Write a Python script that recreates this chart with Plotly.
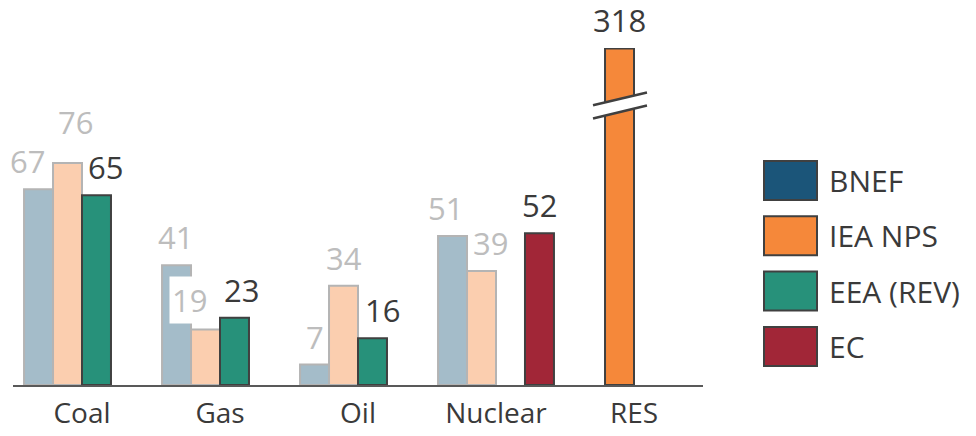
import plotly.graph_objects as go

# ---- data -------------------------------------------------------------
categories = ["Coal", "Gas", "Oil", "Nuclear", "RES"]
series_names = ["BNEF", "IEA NPS", "EEA (REV)", "EC"]
bnef = [67, 41, 7, 51, None]
iea_nps = [76, 19, 34, 39, 318]
eea_rev = [65, 23, 16, None, None]
ec = [None, None, None, 52, None]
values = [bnef, iea_nps, eea_rev, ec]

# bars shown in full colour; the rest are greyed out
highlighted = [
    [False, False, False, False, False],
    [False, False, False, False, True],
    [True, True, True, True, True],
    [True, True, True, True, True],
]

# ---- styling ----------------------------------------------------------
FONT = "Open Sans"
full_colors = ["#1B5579", "#F5883A", "#27917A", "#A12637"]
faded_colors = ["#A4BCC9", "#FBCEAF", "#A8D3C9", "#D9A8AF"]
DARK_LINE = "#404040"
FADED_LINE = "#B4B4B4"
DARK_TEXT = "#3A3A3A"
FADED_TEXT = "#BDBDBD"

BARGAP = 0.16
N_SERIES = len(series_names)
BAR_W = (1 - BARGAP) / N_SERIES
Y_TOP = 115.4  # axis is cut here; taller bars get a break mark

# plot area in pixels
W, H = 976, 436
L, R, T, B = 13, 273, 48, 51
PW, PH = W - L - R, H - T - B

LABEL_GAP = 6
# per-label nudges (series index, category index) -> (dx px, dy px)
label_nudge = {
    (0, 0): (-11, 0), (1, 0): (8, 13), (2, 0): (9, 0),
    (0, 1): (-1, 0), (1, 1): (-16, 0), (2, 1): (7, 0),
    (2, 2): (10, 0),
    (0, 3): (-7, 0), (1, 3): (9, 0),
}
white_box_labels = {(1, 1)}


def bar_center(si, ci):
    return ci - (1 - BARGAP) / 2 + BAR_W * (si + 0.5)


def px_x(p):
    return (p - L) / PW


def px_y(p):
    return (H - B - p) / PH


fig = go.Figure()
for si, name in enumerate(series_names):
    fills = [full_colors[si] if h else faded_colors[si] for h in highlighted[si]]
    lines = [DARK_LINE if h else FADED_LINE for h in highlighted[si]]
    fig.add_trace(go.Bar(
        name=name, x=categories, y=values[si],
        marker=dict(color=fills, line=dict(color=lines, width=2)),
        showlegend=False, hoverinfo="skip",
    ))

annotations = []
shapes = []

# value labels
for si in range(N_SERIES):
    for ci, v in enumerate(values[si]):
        if v is None:
            continue
        dx, dy = label_nudge.get((si, ci), (0, 0))
        box = (si, ci) in white_box_labels
        annotations.append(dict(
            x=bar_center(si, ci), y=min(v, Y_TOP), xref="x", yref="y",
            text=str(v), showarrow=False, yanchor="bottom",
            xshift=dx, yshift=LABEL_GAP + dy,
            font=dict(family=FONT, size=31,
                      color=DARK_TEXT if highlighted[si][ci] else FADED_TEXT),
            bgcolor="white" if box else "rgba(0,0,0,0)",
            borderpad=2 if box else 0,
        ))

# cut bars: close the top edge and add a break mark
for si in range(N_SERIES):
    for ci, v in enumerate(values[si]):
        if v is None or v <= Y_TOP:
            continue
        xc = bar_center(si, ci)
        x0, x1 = xc - BAR_W / 2, xc + BAR_W / 2
        shapes.append(dict(type="line", xref="x", yref="y",
                           x0=x0, x1=x1, y0=Y_TOP, y1=Y_TOP,
                           line=dict(color=DARK_LINE, width=3)))
        bx0, bx1 = x0 - 0.087, x1 + 0.094
        yb = 0.83 * Y_TOP
        rise, gap = 4.4, 4.5
        shapes.append(dict(
            type="path", xref="x", yref="y",
            path=f"M {bx0},{yb} L {bx1},{yb + rise} L {bx1},{yb + rise - gap} "
                 f"L {bx0},{yb - gap} Z",
            fillcolor="white", line=dict(width=0), layer="above"))
        for off in (0, -gap):
            shapes.append(dict(type="line", xref="x", yref="y",
                               x0=bx0, x1=bx1, y0=yb + off, y1=yb + rise + off,
                               line=dict(color=DARK_LINE, width=2.5),
                               layer="above"))

# legend with large swatches
LEG_X0, LEG_SW, LEG_SH = 764, 53, 39
LEG_TOP, LEG_STEP = 161, 55.3
for si, name in enumerate(series_names):
    top = LEG_TOP + si * LEG_STEP
    shapes.append(dict(type="rect", xref="paper", yref="paper",
                       x0=px_x(LEG_X0), x1=px_x(LEG_X0 + LEG_SW),
                       y0=px_y(top + LEG_SH), y1=px_y(top),
                       fillcolor=full_colors[si],
                       line=dict(color=DARK_LINE, width=2)))
    annotations.append(dict(
        x=px_x(LEG_X0 + LEG_SW + 10), y=px_y(top + LEG_SH / 2),
        xref="paper", yref="paper", xanchor="left", yanchor="middle",
        text=name, showarrow=False,
        font=dict(family=FONT, size=30, color=DARK_TEXT)))

fig.update_layout(
    width=W, height=H,
    margin=dict(l=L, r=R, t=T, b=B),
    paper_bgcolor="white", plot_bgcolor="white",
    barmode="group", bargap=BARGAP, bargroupgap=0,
    annotations=annotations, shapes=shapes,
    showlegend=False,
    xaxis=dict(type="category", range=[-0.5, len(categories) - 0.5],
               showline=True, linecolor="#595959", linewidth=2,
               showgrid=False, zeroline=False, ticks="",
               ticklabelstandoff=2, automargin=False,
               tickfont=dict(family=FONT, size=28, color=DARK_TEXT),
               fixedrange=True),
    yaxis=dict(visible=False, range=[0, Y_TOP], fixedrange=True,
               automargin=False),
)

fig.write_html("out.html")
